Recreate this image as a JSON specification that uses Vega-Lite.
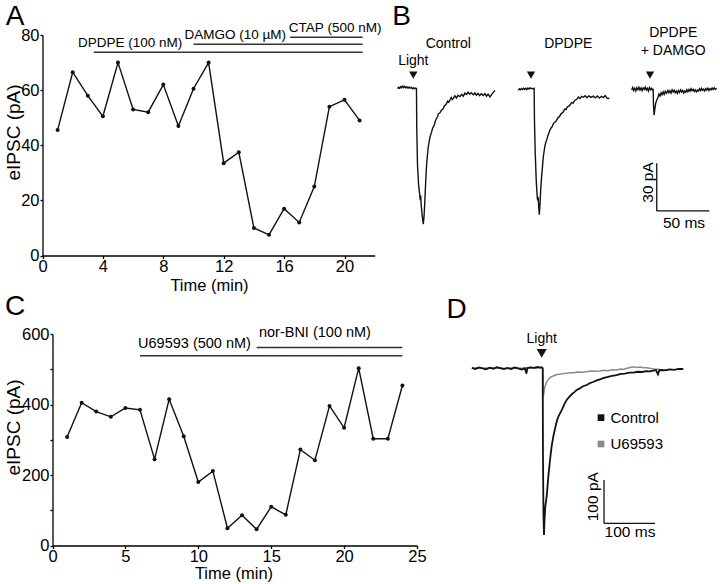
{
  "$schema": "https://vega.github.io/schema/vega-lite/v6.json",
  "width": 720,
  "height": 584,
  "padding": 0,
  "autosize": {"type": "none"},
  "config": {
    "font": "Liberation Sans",
    "view": {"stroke": null},
    "axis": {"grid": false, "domainColor": "#000", "tickColor": "#000", "labelColor": "#000", "titleColor": "#000", "titleFontWeight": "normal", "labelFlush": false, "labelOverlap": false, "domainWidth": 1.3, "tickWidth": 1.3, "labelFontSize": 16.5, "labelFont": "Liberation Sans", "titleFont": "Liberation Sans"},
    "text": {"color": "#000", "font": "Liberation Sans"}
  },
  "datasets": {
    "a": [
      {"time": 1, "value": 45.5}, {"time": 2, "value": 66.5}, {"time": 3, "value": 58}, {"time": 4, "value": 50.5},
      {"time": 5, "value": 70}, {"time": 6, "value": 53}, {"time": 7, "value": 52}, {"time": 8, "value": 62},
      {"time": 9, "value": 47}, {"time": 10, "value": 60.5}, {"time": 11, "value": 70}, {"time": 12, "value": 33.5},
      {"time": 13, "value": 37.5}, {"time": 14, "value": 10}, {"time": 15, "value": 7.5}, {"time": 16, "value": 17},
      {"time": 17, "value": 12}, {"time": 18, "value": 25}, {"time": 19, "value": 54}, {"time": 20, "value": 56.5},
      {"time": 21, "value": 49}
    ],
    "aBars": [
      {"time": 3.4, "end": 21.2, "value": 73.7},
      {"time": 10.0, "end": 21.2, "value": 76.6},
      {"time": 16.4, "end": 21.2, "value": 79.2}
    ],
    "aLabels": [
      {"time": 5.8, "value": 77.0, "label": "DPDPE (100 nM)"},
      {"time": 12.76, "value": 80.0, "label": "DAMGO (10 µM)"},
      {"time": 19.38, "value": 82.4, "label": "CTAP (500 nM)"}
    ],
    "aLetter": [{"time": -1.82, "value": 83.8, "label": "A"}],
    "c": [
      {"time": 1, "value": 308}, {"time": 2, "value": 405}, {"time": 3, "value": 380}, {"time": 4, "value": 365},
      {"time": 5, "value": 390}, {"time": 6, "value": 385}, {"time": 7, "value": 245}, {"time": 8, "value": 415},
      {"time": 9, "value": 310}, {"time": 10, "value": 180}, {"time": 11, "value": 211}, {"time": 12, "value": 49},
      {"time": 13, "value": 86}, {"time": 14, "value": 46}, {"time": 15, "value": 110}, {"time": 16, "value": 87},
      {"time": 17, "value": 272}, {"time": 18, "value": 242}, {"time": 19, "value": 396}, {"time": 20, "value": 334},
      {"time": 21, "value": 503}, {"time": 22, "value": 303}, {"time": 23, "value": 303}, {"time": 24, "value": 454}
    ],
    "cBars": [
      {"time": 6.0, "end": 24.0, "value": 538},
      {"time": 14.0, "end": 24.0, "value": 562}
    ],
    "cLabels": [
      {"time": 9.74, "value": 571.6, "label": "U69593 (500 nM)"},
      {"time": 18.0, "value": 602, "label": "nor-BNI (100 nM)"}
    ],
    "cLetter": [{"time": -2.57, "value": 654, "label": "C"}],
    "bControl": [
      {"time": -15, "value": 0.2}, {"time": -14, "value": 1.1}, {"time": -13, "value": 0.4}, {"time": -12, "value": 1.5},
      {"time": -11, "value": 0.8}, {"time": -10, "value": 1.9}, {"time": -9, "value": 0.9}, {"time": -8, "value": 1.6},
      {"time": -7, "value": 0.7}, {"time": -6, "value": 1.4}, {"time": -5, "value": 0.5}, {"time": -4, "value": 1.3},
      {"time": -3, "value": 0.6}, {"time": -2, "value": 1.0}, {"time": -1, "value": 0.2}, {"time": 0, "value": 0.8},
      {"time": 1, "value": 0.1}, {"time": 2, "value": 0.6}, {"time": 3, "value": 0.3}, {"time": 3.3, "value": -25},
      {"time": 4, "value": -48}, {"time": 5, "value": -60}, {"time": 6, "value": -66}, {"time": 6.6, "value": -70},
      {"time": 7, "value": -67}, {"time": 7.5, "value": -73}, {"time": 8.5, "value": -80}, {"time": 9.5, "value": -85},
      {"time": 10.2, "value": -80}, {"time": 11, "value": -70}, {"time": 12, "value": -55}, {"time": 12.7, "value": -47},
      {"time": 13.5, "value": -41}, {"time": 14.3, "value": -36}, {"time": 15.1, "value": -33}, {"time": 15.9, "value": -30},
      {"time": 16.7, "value": -28.5}, {"time": 17.4, "value": -27}, {"time": 18.2, "value": -25}, {"time": 19, "value": -23.7},
      {"time": 20, "value": -22.5}, {"time": 21, "value": -20}, {"time": 22.2, "value": -18.4}, {"time": 23, "value": -17.5},
      {"time": 24, "value": -15.5}, {"time": 25.3, "value": -15}, {"time": 26.5, "value": -13.5}, {"time": 27.5, "value": -13},
      {"time": 28.5, "value": -12.2}, {"time": 29.5, "value": -10.5}, {"time": 30.5, "value": -10.2}, {"time": 31.6, "value": -9},
      {"time": 32.7, "value": -7.6}, {"time": 33.7, "value": -8.2}, {"time": 34.8, "value": -6.9}, {"time": 36, "value": -5.4},
      {"time": 37, "value": -6.6}, {"time": 38, "value": -5.9}, {"time": 39.5, "value": -4.3}, {"time": 41, "value": -5.6},
      {"time": 42.5, "value": -4}, {"time": 44.3, "value": -4.8}, {"time": 46, "value": -3.4}, {"time": 47.5, "value": -4.6},
      {"time": 49, "value": -2.6}, {"time": 50.6, "value": -3.4}, {"time": 52, "value": -2}, {"time": 53.5, "value": -3.3},
      {"time": 55, "value": -2.4}, {"time": 57, "value": -3.6}, {"time": 58.5, "value": -2.5}, {"time": 60, "value": -3.9},
      {"time": 61.5, "value": -2.8}, {"time": 63, "value": -4.2}, {"time": 64.5, "value": -3}, {"time": 66.4, "value": -4.1},
      {"time": 68, "value": -2.9}, {"time": 69.5, "value": -4.5}, {"time": 71, "value": -3.2}, {"time": 72.8, "value": -5},
      {"time": 74.5, "value": -3.4}, {"time": 76, "value": -2.1}, {"time": 77.6, "value": -1}
    ],
    "bDPDPE": [
      {"time": -12, "value": -0.8}, {"time": -11, "value": 0.1}, {"time": -10, "value": -0.5}, {"time": -9, "value": 0.3},
      {"time": -8, "value": -0.3}, {"time": -7, "value": 0.5}, {"time": -6, "value": -0.2}, {"time": -5, "value": 0.4},
      {"time": -4, "value": -0.4}, {"time": -3, "value": 0.6}, {"time": -2, "value": 0.0}, {"time": -1, "value": 0.7},
      {"time": 0, "value": 0.2}, {"time": 1, "value": 0.5}, {"time": 2, "value": 0.1}, {"time": 3, "value": 0.4},
      {"time": 3.3, "value": -20}, {"time": 4, "value": -40}, {"time": 5, "value": -58}, {"time": 5.8, "value": -67},
      {"time": 6.3, "value": -70}, {"time": 6.8, "value": -68}, {"time": 7.3, "value": -74}, {"time": 7.9, "value": -79},
      {"time": 8.6, "value": -72}, {"time": 9.3, "value": -62}, {"time": 10.1, "value": -55}, {"time": 11, "value": -48},
      {"time": 11.7, "value": -42.6}, {"time": 12.5, "value": -39}, {"time": 13.3, "value": -35.5}, {"time": 14.1, "value": -33.5},
      {"time": 14.9, "value": -32}, {"time": 16, "value": -29.5}, {"time": 17, "value": -27.5}, {"time": 18, "value": -25.8},
      {"time": 19, "value": -24.5}, {"time": 20, "value": -23.8}, {"time": 21.5, "value": -21.5}, {"time": 23, "value": -20.8},
      {"time": 24.4, "value": -19.5}, {"time": 25.8, "value": -17.8}, {"time": 27, "value": -17.4}, {"time": 28.5, "value": -15.6},
      {"time": 29.5, "value": -15.2}, {"time": 30.7, "value": -14.3}, {"time": 32, "value": -12.6}, {"time": 33.3, "value": -12.9},
      {"time": 34.5, "value": -11.2}, {"time": 36, "value": -10.8}, {"time": 37, "value": -10.1}, {"time": 38.5, "value": -8.6},
      {"time": 40, "value": -8.9}, {"time": 41.5, "value": -7.2}, {"time": 43.4, "value": -6.5}, {"time": 45, "value": -5.1},
      {"time": 46.5, "value": -6.0}, {"time": 48, "value": -4.6}, {"time": 49.7, "value": -5.2}, {"time": 51.5, "value": -4.2},
      {"time": 53, "value": -5.5}, {"time": 55, "value": -4.3}, {"time": 57, "value": -5.3}, {"time": 59.2, "value": -4.5},
      {"time": 61, "value": -5.6}, {"time": 63, "value": -4.4}, {"time": 65, "value": -5.7}, {"time": 66.8, "value": -4.6},
      {"time": 68.7, "value": -5.4}, {"time": 70.5, "value": -4.2}, {"time": 72.5, "value": -6.0}, {"time": 74.4, "value": -5.8}
    ],
    "bDAMGO": [
      {"time": -17.4, "value": -0.6}, {"time": -16.5, "value": 0.9}, {"time": -15.5, "value": -0.9}, {"time": -14.5, "value": 0.5},
      {"time": -13.5, "value": -1.2}, {"time": -12.5, "value": 0.8}, {"time": -11.5, "value": -0.4}, {"time": -10.5, "value": 1.1},
      {"time": -9.5, "value": -0.7}, {"time": -8.5, "value": 0.6}, {"time": -7.5, "value": -1.0}, {"time": -6.5, "value": 0.7},
      {"time": -5.5, "value": -0.2}, {"time": -4.5, "value": 1.2}, {"time": -3.5, "value": -0.6}, {"time": -2.5, "value": 0.4},
      {"time": -1.5, "value": -1.3}, {"time": -0.5, "value": 0.9}, {"time": 0.5, "value": -0.4}, {"time": 1.5, "value": 0.5},
      {"time": 2.5, "value": -0.8}, {"time": 3.0, "value": 0.2}, {"time": 3.3, "value": -10}, {"time": 3.9, "value": -16.4},
      {"time": 4.6, "value": -12.5}, {"time": 5.4, "value": -9}, {"time": 6.4, "value": -6.9}, {"time": 7.5, "value": -5.5},
      {"time": 8.5, "value": -3.2}, {"time": 9.5, "value": -4.4}, {"time": 10.5, "value": -2.4}, {"time": 11.5, "value": -3.6},
      {"time": 12.5, "value": -1.8}, {"time": 13.5, "value": -3.3}, {"time": 14.5, "value": -1.4}, {"time": 15.8, "value": -2.7},
      {"time": 17, "value": -0.9}, {"time": 18, "value": -2.3}, {"time": 19, "value": -1.1}, {"time": 20, "value": -2.6},
      {"time": 21, "value": -0.5}, {"time": 22, "value": -1.9}, {"time": 23, "value": -0.8}, {"time": 24, "value": -2.4},
      {"time": 25, "value": -1.3}, {"time": 26, "value": -2.8}, {"time": 27, "value": -1.0}, {"time": 28, "value": -2.2},
      {"time": 29, "value": -0.6}, {"time": 30, "value": -1.8}, {"time": 31, "value": -0.9}, {"time": 32, "value": -2.5},
      {"time": 33, "value": -1.2}, {"time": 34, "value": -2.0}, {"time": 35, "value": -0.4}, {"time": 36, "value": -1.7},
      {"time": 37, "value": -0.3}, {"time": 38, "value": -1.4}, {"time": 39, "value": 0.2}, {"time": 40, "value": -1.1},
      {"time": 41, "value": -0.2}, {"time": 42, "value": -1.5}, {"time": 43, "value": -0.5}, {"time": 44, "value": -1.8},
      {"time": 45, "value": -0.7}, {"time": 46, "value": -1.3}, {"time": 47, "value": 0.1}, {"time": 48, "value": -1.0},
      {"time": 49, "value": 0.4}, {"time": 50, "value": -0.8}, {"time": 51, "value": -0.1}, {"time": 52, "value": -1.2},
      {"time": 53, "value": 0.3}, {"time": 54, "value": -0.6}, {"time": 55, "value": 0.5}, {"time": 56, "value": -0.9},
      {"time": 57, "value": 0.2}, {"time": 58, "value": -0.5}, {"time": 59, "value": 0.6}, {"time": 60, "value": -0.3},
      {"time": 61, "value": 0.8}, {"time": 62, "value": -0.2}, {"time": 63.3, "value": 0.4}
    ],
    "bLight": [{"time": 0, "value": 8.8}],
    "bControlText": [
      {"time": 33.2, "value": 25.8, "label": "Control"},
      {"time": 0, "value": 15.1, "label": "Light"}
    ],
    "bLetter": [{"time": -11.2, "value": 40.3, "label": "B"}],
    "bDPDPEText": [{"time": 35.4, "value": 25.8, "label": "DPDPE"}],
    "bDAMGOText": [
      {"time": 22.1, "value": 32.9, "label": "DPDPE"},
      {"time": 22.1, "value": 21.4, "label": "+ DAMGO"}
    ],
    "bScale": [
      {"time": 6.4, "end": 6.4, "value": -46.7, "value2": -76.7},
      {"time": 6.4, "end": 56.4, "value": -76.7, "value2": -76.7}
    ],
    "bScaleV": [{"time": -1.6, "value": -58.8, "label": "30 pA"}],
    "bScaleH": [{"time": 32.3, "value": -84.5, "label": "50 ms"}],
    "dControl": [
      {"time": -137, "value": 1}, {"time": -130, "value": -1.5}, {"time": -123, "value": 2}, {"time": -116, "value": 0},
      {"time": -109, "value": -2.5}, {"time": -102, "value": 1.5}, {"time": -95, "value": -1}, {"time": -88, "value": 2.5},
      {"time": -81, "value": 0.5}, {"time": -74, "value": -2}, {"time": -67, "value": 1}, {"time": -60, "value": -1.5},
      {"time": -53, "value": 2}, {"time": -46, "value": 0}, {"time": -39, "value": -3}, {"time": -33, "value": 0},
      {"time": -30, "value": -12}, {"time": -28, "value": 0.5}, {"time": -22, "value": 2}, {"time": -15, "value": 1},
      {"time": -8, "value": 3}, {"time": -3, "value": 1.5}, {"time": 0, "value": 2.5}, {"time": 2, "value": 0},
      {"time": 2.5, "value": -200}, {"time": 3.5, "value": -340}, {"time": 4.5, "value": -385}, {"time": 5.5, "value": -350},
      {"time": 7, "value": -320}, {"time": 9.8, "value": -296}, {"time": 13, "value": -250}, {"time": 16.3, "value": -212},
      {"time": 19.5, "value": -180}, {"time": 22.7, "value": -158}, {"time": 26, "value": -140}, {"time": 29, "value": -125},
      {"time": 32, "value": -113}, {"time": 35.9, "value": -104}, {"time": 40, "value": -95}, {"time": 44, "value": -84},
      {"time": 49, "value": -73}, {"time": 54, "value": -66}, {"time": 59, "value": -60}, {"time": 64, "value": -55},
      {"time": 68.6, "value": -50}, {"time": 74, "value": -47}, {"time": 80, "value": -42}, {"time": 88.2, "value": -38.6},
      {"time": 95, "value": -34}, {"time": 102, "value": -31}, {"time": 108, "value": -28}, {"time": 114.3, "value": -25.4},
      {"time": 122, "value": -22}, {"time": 130, "value": -20}, {"time": 138, "value": -17.5}, {"time": 147, "value": -15.5},
      {"time": 155, "value": -13}, {"time": 163, "value": -12.5}, {"time": 171, "value": -10}, {"time": 179.6, "value": -10.2},
      {"time": 188, "value": -8}, {"time": 197, "value": -8.5}, {"time": 205, "value": -6.5}, {"time": 212, "value": -7},
      {"time": 218.8, "value": -5.5}, {"time": 224, "value": -4}, {"time": 228, "value": -14}, {"time": 231, "value": -4},
      {"time": 238, "value": -4.5}, {"time": 245, "value": -3.9}, {"time": 252, "value": -2.5}, {"time": 260, "value": -3.5},
      {"time": 268, "value": -1.5}, {"time": 277.6, "value": -1.6}
    ],
    "dU69593": [
      {"time": -137, "value": 0}, {"time": -100, "value": 0.5}, {"time": -60, "value": -0.5}, {"time": -20, "value": 0.5},
      {"time": 0, "value": 1}, {"time": 2, "value": 0}, {"time": 2.5, "value": -40}, {"time": 3.2, "value": -65},
      {"time": 4.5, "value": -55}, {"time": 6.5, "value": -42}, {"time": 9.8, "value": -31}, {"time": 14, "value": -24},
      {"time": 18, "value": -20}, {"time": 22.7, "value": -17.8}, {"time": 28, "value": -15}, {"time": 35, "value": -14},
      {"time": 42, "value": -12}, {"time": 49, "value": -11.5}, {"time": 56, "value": -10}, {"time": 63, "value": -10.5},
      {"time": 70, "value": -8.5}, {"time": 78, "value": -9}, {"time": 88.2, "value": -7.8}, {"time": 96, "value": -6},
      {"time": 104, "value": -7}, {"time": 114, "value": -6.2}, {"time": 122, "value": -4.5}, {"time": 130, "value": -5.5},
      {"time": 138, "value": -3.5}, {"time": 147, "value": -3.9}, {"time": 155, "value": -1.5}, {"time": 161, "value": -2.5},
      {"time": 166.7, "value": 0}, {"time": 172, "value": 1.5}, {"time": 179.6, "value": 3.7}, {"time": 186, "value": 2},
      {"time": 194, "value": 3}, {"time": 200, "value": 1}, {"time": 206, "value": 1.5}, {"time": 212, "value": 0},
      {"time": 220, "value": -1.5}, {"time": 228, "value": -2}, {"time": 238, "value": -3.9}
    ],
    "dLight": [{"time": 0, "value": 34.6}],
    "dLightText": [{"time": 0, "value": 57.7, "label": "Light"}],
    "dLegend": [
      {"time": 116.3, "value": -114, "trace": "Control"},
      {"time": 116.3, "value": -174.8, "trace": "U69593"}
    ],
    "dScale": [
      {"time": 122.2, "end": 122.2, "value": -258, "value2": -358},
      {"time": 122.2, "end": 222.2, "value": -358, "value2": -358}
    ],
    "dScaleV": [{"time": 101.2, "value": -296.5, "label": "100 pA"}],
    "dScaleH": [{"time": 173.1, "value": -378, "label": "100 ms"}],
    "dLetter": [{"time": -166.7, "value": 115.5, "label": "D"}]
  },
  "layer": [
    {
      "encoding": {
        "x": {"field": "time", "type": "quantitative", "scale": {"domain": [0, 22], "range": [42.5, 374.7], "nice": false, "zero": false},
          "axis": {"orient": "bottom", "offset": -328.5, "values": [0, 4, 8, 12, 16, 20], "title": "Time (min)", "titleX": 209, "titleY": 29.5, "titleBaseline": "middle", "titleAlign": "center", "titleFontSize": 16.5, "tickSize": 3, "labelPadding": 0}},
        "y": {"field": "value", "type": "quantitative", "scale": {"domain": [0, 80], "range": [255.5, 35], "nice": false, "zero": false},
          "axis": {"orient": "left", "offset": -42.5, "values": [0, 20, 40, 60, 80], "title": "eIPSC (pA)", "titleX": -29, "titleY": 132, "titleAngle": 270, "titleBaseline": "middle", "titleAlign": "center", "titleFontSize": 19, "tickSize": 2.5, "labelPadding": 1}}
      },
      "layer": [
        {"data": {"name": "aBars"}, "mark": {"type": "rule", "color": "#333", "strokeWidth": 1.5}, "encoding": {"x2": {"field": "end"}}},
        {"data": {"name": "aLabels"}, "mark": {"type": "text", "fontSize": 13.5, "baseline": "middle", "align": "center"}, "encoding": {"text": {"field": "label", "type": "nominal"}}},
        {"data": {"name": "a"}, "mark": {"type": "line", "color": "#111", "strokeWidth": 1.4}},
        {"data": {"name": "a"}, "mark": {"type": "circle", "color": "#111", "size": 16, "opacity": 1}},
        {"data": {"name": "aLetter"}, "mark": {"type": "text", "fontSize": 28, "baseline": "alphabetic", "align": "center"}, "encoding": {"text": {"field": "label", "type": "nominal"}}}
      ]
    },
    {
      "encoding": {
        "y": {"field": "value", "type": "quantitative", "scale": {"domain": [-90, 10], "range": [232.1, 73.1], "nice": false, "zero": false}, "axis": null}
      },
      "resolve": {"scale": {"x": "independent"}},
      "layer": [
        {
          "encoding": {"x": {"field": "time", "type": "quantitative", "scale": {"domain": [-20, 80], "range": [392.24, 497.54], "nice": false, "zero": false}, "axis": null}},
          "layer": [
            {"data": {"name": "bControl"}, "mark": {"type": "line", "color": "#111", "strokeWidth": 1.4}},
            {"data": {"name": "bLight"}, "mark": {"type": "point", "shape": "triangle-down", "filled": true, "size": 70, "color": "#111", "opacity": 1}},
            {"data": {"name": "bControlText"}, "mark": {"type": "text", "fontSize": 14, "baseline": "alphabetic", "align": "center"}, "encoding": {"text": {"field": "label", "type": "nominal"}}},
            {"data": {"name": "bLetter"}, "mark": {"type": "text", "fontSize": 28, "baseline": "alphabetic", "align": "center"}, "encoding": {"text": {"field": "label", "type": "nominal"}}}
          ]
        },
        {
          "encoding": {"x": {"field": "time", "type": "quantitative", "scale": {"domain": [-20, 80], "range": [509.94, 615.24], "nice": false, "zero": false}, "axis": null}},
          "layer": [
            {"data": {"name": "bDPDPE"}, "mark": {"type": "line", "color": "#111", "strokeWidth": 1.4}},
            {"data": {"name": "bLight"}, "mark": {"type": "point", "shape": "triangle-down", "filled": true, "size": 70, "color": "#111", "opacity": 1}},
            {"data": {"name": "bDPDPEText"}, "mark": {"type": "text", "fontSize": 14, "baseline": "alphabetic", "align": "center"}, "encoding": {"text": {"field": "label", "type": "nominal"}}}
          ]
        },
        {
          "encoding": {"x": {"field": "time", "type": "quantitative", "scale": {"domain": [-20, 80], "range": [628.94, 734.24], "nice": false, "zero": false}, "axis": null}},
          "layer": [
            {"data": {"name": "bDAMGO"}, "mark": {"type": "line", "color": "#111", "strokeWidth": 1.4}},
            {"data": {"name": "bLight"}, "mark": {"type": "point", "shape": "triangle-down", "filled": true, "size": 70, "color": "#111", "opacity": 1}},
            {"data": {"name": "bDAMGOText"}, "mark": {"type": "text", "fontSize": 14, "baseline": "alphabetic", "align": "center"}, "encoding": {"text": {"field": "label", "type": "nominal"}}},
            {"data": {"name": "bScale"}, "mark": {"type": "rule", "color": "#111", "strokeWidth": 1.3}, "encoding": {"x2": {"field": "end"}, "y2": {"field": "value2"}}},
            {"data": {"name": "bScaleV"}, "mark": {"type": "text", "fontSize": 15.5, "baseline": "middle", "align": "center", "angle": 270}, "encoding": {"text": {"field": "label", "type": "nominal"}}},
            {"data": {"name": "bScaleH"}, "mark": {"type": "text", "fontSize": 15.5, "baseline": "middle", "align": "center"}, "encoding": {"text": {"field": "label", "type": "nominal"}}}
          ]
        }
      ]
    },
    {
      "encoding": {
        "x": {"field": "time", "type": "quantitative", "scale": {"domain": [0, 25], "range": [52.5, 417], "nice": false, "zero": false},
          "axis": {"orient": "bottom", "offset": -38.5, "values": [0, 5, 10, 15, 20, 25], "title": "Time (min)", "titleX": 233.5, "titleY": 28, "titleBaseline": "middle", "titleAlign": "center", "titleFontSize": 16.5, "tickSize": 3, "labelPadding": 0}},
        "y": {"field": "value", "type": "quantitative", "scale": {"domain": [0, 600], "range": [545.5, 334], "nice": false, "zero": false},
          "axis": {"orient": "left", "offset": -52.5, "values": [0, 100, 200, 300, 400, 500, 600], "labelExpr": "datum.value % 200 === 0 ? datum.label : ''", "title": "eIPSC (pA)", "titleX": -39.2, "titleY": 427, "titleAngle": 270, "titleBaseline": "middle", "titleAlign": "center", "titleFontSize": 19, "tickSize": 2.5, "labelPadding": 1}}
      },
      "layer": [
        {"data": {"name": "cBars"}, "mark": {"type": "rule", "color": "#333", "strokeWidth": 1.5}, "encoding": {"x2": {"field": "end"}}},
        {"data": {"name": "cLabels"}, "mark": {"type": "text", "fontSize": 14.5, "baseline": "middle", "align": "center"}, "encoding": {"text": {"field": "label", "type": "nominal"}}},
        {"data": {"name": "c"}, "mark": {"type": "line", "color": "#111", "strokeWidth": 1.4}},
        {"data": {"name": "c"}, "mark": {"type": "circle", "color": "#111", "size": 16, "opacity": 1}},
        {"data": {"name": "cLetter"}, "mark": {"type": "text", "fontSize": 28, "baseline": "alphabetic", "align": "center"}, "encoding": {"text": {"field": "label", "type": "nominal"}}}
      ]
    },
    {
      "encoding": {
        "x": {"field": "time", "type": "quantitative", "scale": {"domain": [-150, 350], "range": [465.2, 720.2], "nice": false, "zero": false}, "axis": null},
        "y": {"field": "value", "type": "quantitative", "scale": {"domain": [-400, 100], "range": [541.5, 325], "nice": false, "zero": false}, "axis": null}
      },
      "layer": [
        {"data": {"name": "dU69593"}, "mark": {"type": "line", "color": "#8a8a8a", "strokeWidth": 1.5}},
        {"data": {"name": "dControl"}, "mark": {"type": "line", "color": "#111", "strokeWidth": 1.8}},
        {"data": {"name": "dLight"}, "mark": {"type": "point", "shape": "triangle-down", "filled": true, "size": 100, "color": "#111", "opacity": 1}},
        {"data": {"name": "dLightText"}, "mark": {"type": "text", "fontSize": 14, "baseline": "alphabetic", "align": "center"}, "encoding": {"text": {"field": "label", "type": "nominal"}}},
        {"data": {"name": "dLegend"}, "mark": {"type": "square", "size": 45, "opacity": 1}, "encoding": {"color": {"field": "trace", "type": "nominal", "scale": {"domain": ["Control", "U69593"], "range": ["#111111", "#8a8a8a"]}, "legend": null}}},
        {"data": {"name": "dLegend"}, "mark": {"type": "text", "fontSize": 15, "baseline": "middle", "align": "left", "dx": 9.5}, "encoding": {"text": {"field": "trace", "type": "nominal"}}},
        {"data": {"name": "dScale"}, "mark": {"type": "rule", "color": "#111", "strokeWidth": 1.3}, "encoding": {"x2": {"field": "end"}, "y2": {"field": "value2"}}},
        {"data": {"name": "dScaleV"}, "mark": {"type": "text", "fontSize": 15.5, "baseline": "middle", "align": "center", "angle": 270}, "encoding": {"text": {"field": "label", "type": "nominal"}}},
        {"data": {"name": "dScaleH"}, "mark": {"type": "text", "fontSize": 15.5, "baseline": "middle", "align": "center"}, "encoding": {"text": {"field": "label", "type": "nominal"}}},
        {"data": {"name": "dLetter"}, "mark": {"type": "text", "fontSize": 28, "baseline": "alphabetic", "align": "center"}, "encoding": {"text": {"field": "label", "type": "nominal"}}}
      ]
    }
  ],
  "resolve": {"scale": {"x": "independent", "y": "independent"}}
}
